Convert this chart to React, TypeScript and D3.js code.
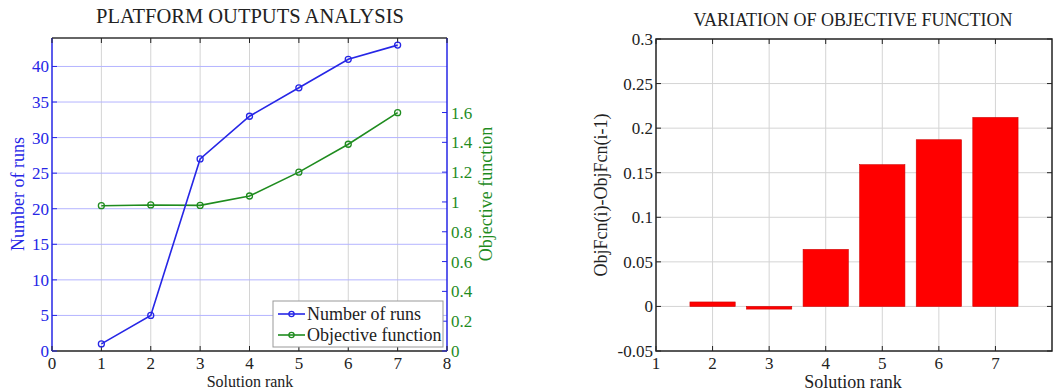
import React from 'react'
import * as d3 from 'd3'

const ranks = [1, 2, 3, 4, 5, 6, 7]
const numberOfRuns = [1, 5, 27, 33, 37, 41, 43]
const objectiveFunction = [0.975, 0.98, 0.977, 1.04, 1.2, 1.387, 1.599]

const variationRanks = [2, 3, 4, 5, 6, 7]
const variation = [0.005, -0.003, 0.064, 0.159, 0.187, 0.212]

const leftXTicks = [0, 1, 2, 3, 4, 5, 6, 7, 8]
const runsTicks = [0, 5, 10, 15, 20, 25, 30, 35, 40]
const objTicks = [0, 0.2, 0.4, 0.6, 0.8, 1, 1.2, 1.4, 1.6]
const rightXTicks = [1, 2, 3, 4, 5, 6, 7]
const variationTicks = [-0.05, 0, 0.05, 0.1, 0.15, 0.2, 0.25, 0.3]

const FONT = "'Liberation Serif', 'Times New Roman', serif"
const BLUE = '#2626e6'
const GREEN = '#1f8c1f'
const TEXT = '#222'

const fmt = (v: number) => String(+v.toFixed(2))

function LeftChart() {
  const x = d3.scaleLinear().domain([0, 8]).range([52, 447])
  const yRuns = d3.scaleLinear().domain([0, 44]).range([351, 38])
  const yObj = d3.scaleLinear().domain([0, 2.1]).range([351, 38])
  const [x0, x1] = x.range()
  const [yb, yt] = yRuns.range()

  const runsLine = d3.line<number>().x(i => x(ranks[i])).y(i => yRuns(numberOfRuns[i]))
  const objLine = d3.line<number>().x(i => x(ranks[i])).y(i => yObj(objectiveFunction[i]))
  const idx = ranks.map((_, i) => i)

  const lx = 273, ly = 301
  return (
    <g style={{ fontFamily: FONT }}>
      <rect x={x0} y={yt} width={x1 - x0} height={yb - yt} fill="#fff" />
      {/* grid */}
      {leftXTicks.slice(1, -1).map(t => (
        <line key={'gx' + t} x1={x(t)} x2={x(t)} y1={yt} y2={yb} stroke="#d4d4d4" strokeWidth={1} />
      ))}
      {runsTicks.slice(1).map(t => (
        <line key={'gy' + t} x1={x0} x2={x1} y1={yRuns(t)} y2={yRuns(t)} stroke="#b4b4ff" strokeWidth={1} />
      ))}
      {/* box */}
      <line x1={x0} x2={x1} y1={yt} y2={yt} stroke="#333" strokeWidth={1.5} />
      <line x1={x0} x2={x1} y1={yb} y2={yb} stroke="#222" strokeWidth={1.5} />
      <line x1={x0} x2={x0} y1={yt} y2={yb} stroke={BLUE} strokeWidth={1.5} />
      <line x1={x1} x2={x1} y1={yt} y2={yb} stroke={BLUE} strokeWidth={1.5} />
      {/* x ticks */}
      {leftXTicks.map(t => (
        <g key={'xt' + t}>
          <line x1={x(t)} x2={x(t)} y1={yb} y2={yb - 5} stroke="#222" />
          <line x1={x(t)} x2={x(t)} y1={yt} y2={yt + 5} stroke="#222" />
          <text x={x(t)} y={369} textAnchor="middle" fontSize={17} fill={TEXT}>{t}</text>
        </g>
      ))}
      {/* left y ticks */}
      {runsTicks.map(t => (
        <g key={'yt' + t}>
          <line x1={x0} x2={x0 + 5} y1={yRuns(t)} y2={yRuns(t)} stroke={BLUE} />
          <text x={x0 - 3} y={yRuns(t) + 6} textAnchor="end" fontSize={17} fill={BLUE}>{t}</text>
        </g>
      ))}
      {/* right y ticks */}
      {objTicks.map(t => (
        <g key={'ot' + t}>
          <line x1={x1} x2={x1 - 5} y1={yObj(t)} y2={yObj(t)} stroke={BLUE} />
          <text x={x1 + 4} y={yObj(t) + 6} textAnchor="start" fontSize={17} fill={GREEN}>{fmt(t)}</text>
        </g>
      ))}
      {/* series */}
      <path d={objLine(idx) || ''} fill="none" stroke={GREEN} strokeWidth={1.6} />
      {idx.map(i => (
        <circle key={'oc' + i} cx={x(ranks[i])} cy={yObj(objectiveFunction[i])} r={3} fill="none" stroke={GREEN} strokeWidth={1.3} />
      ))}
      <path d={runsLine(idx) || ''} fill="none" stroke={BLUE} strokeWidth={1.6} />
      {idx.map(i => (
        <circle key={'rc' + i} cx={x(ranks[i])} cy={yRuns(numberOfRuns[i])} r={3} fill="none" stroke={BLUE} strokeWidth={1.3} />
      ))}
      {/* legend */}
      <rect x={lx} y={ly} width={170} height={46} fill="#fff" stroke="#999" strokeWidth={1} />
      {[
        { label: 'Number of runs', color: BLUE },
        { label: 'Objective function', color: GREEN },
      ].map((item, i) => {
        const cy = ly + 13 + i * 21
        return (
          <g key={item.label}>
            <line x1={lx + 5} x2={lx + 32} y1={cy} y2={cy} stroke={item.color} strokeWidth={1.6} />
            <circle cx={lx + 18.5} cy={cy} r={2.6} fill="none" stroke={item.color} strokeWidth={1.3} />
            <text x={lx + 34} y={cy + 6} fontSize={18} fill={TEXT}>{item.label}</text>
          </g>
        )
      })}
      {/* labels */}
      <text x={250} y={23} textAnchor="middle" fontSize={20.5} fill={TEXT}>PLATFORM OUTPUTS ANALYSIS</text>
      <text x={250} y={387} textAnchor="middle" fontSize={16} fill={TEXT}>Solution rank</text>
      <text transform={`translate(24,194) rotate(-90)`} textAnchor="middle" fontSize={18} fill={BLUE}>Number of runs</text>
      <text transform={`translate(492,194) rotate(-90)`} textAnchor="middle" fontSize={18} fill={GREEN}>Objective function</text>
    </g>
  )
}

function RightChart() {
  const x = d3.scaleLinear().domain([1, 8]).range([656, 1052])
  const y = d3.scaleLinear().domain([-0.05, 0.3]).range([351, 39])
  const [x0, x1] = x.range()
  const [yb, yt] = y.range()
  const bw = x(1.8) - x(1)

  return (
    <g style={{ fontFamily: FONT }}>
      <rect x={x0} y={yt} width={x1 - x0} height={yb - yt} fill="#fff" />
      {rightXTicks.slice(1).map(t => (
        <line key={'gx' + t} x1={x(t)} x2={x(t)} y1={yt} y2={yb} stroke="#d4d4d4" />
      ))}
      {variationTicks.slice(1, -1).map(t => (
        <line key={'gy' + t} x1={x0} x2={x1} y1={y(t)} y2={y(t)} stroke="#d4d4d4" />
      ))}
      {variationRanks.map((r, i) => {
        const v = variation[i]
        const top = Math.min(y(v), y(0))
        return (
          <rect key={'b' + r} x={x(r) - bw / 2} y={top} width={bw} height={Math.max(Math.abs(y(v) - y(0)), 1)}
            fill="#ff0000" stroke="#d00000" strokeWidth={0.6} />
        )
      })}
      <rect x={x0} y={yt} width={x1 - x0} height={yb - yt} fill="none" stroke="#222" strokeWidth={1.5} />
      {rightXTicks.map(t => (
        <g key={'xt' + t}>
          <line x1={x(t)} x2={x(t)} y1={yb} y2={yb - 5} stroke="#222" />
          <line x1={x(t)} x2={x(t)} y1={yt} y2={yt + 5} stroke="#222" />
          <text x={x(t)} y={369} textAnchor="middle" fontSize={17} fill={TEXT}>{t}</text>
        </g>
      ))}
      {variationTicks.map(t => (
        <g key={'yt' + t}>
          <line x1={x0} x2={x0 + 5} y1={y(t)} y2={y(t)} stroke="#222" />
          <line x1={x1} x2={x1 - 5} y1={y(t)} y2={y(t)} stroke="#222" />
          <text x={x0 - 3} y={y(t) + 6} textAnchor="end" fontSize={17} fill={TEXT}>{fmt(t)}</text>
        </g>
      ))}
      <text x={853} y={26} textAnchor="middle" fontSize={18} fill={TEXT}>VARIATION OF OBJECTIVE FUNCTION</text>
      <text x={853} y={388} textAnchor="middle" fontSize={18} fill={TEXT}>Solution rank</text>
      <text transform={`translate(607,195) rotate(-90)`} textAnchor="middle" fontSize={18} fill={TEXT}>ObjFcn(i)-ObjFcn(i-1)</text>
    </g>
  )
}

export default function App() {
  return (
    <svg width={1057} height={392} viewBox="0 0 1057 392"
      style={{ position: 'absolute', left: 0, top: 0, background: '#fff', fontFamily: FONT }}>
      <rect width={1057} height={392} fill="#fff" />
      <LeftChart />
      <RightChart />
    </svg>
  )
}
